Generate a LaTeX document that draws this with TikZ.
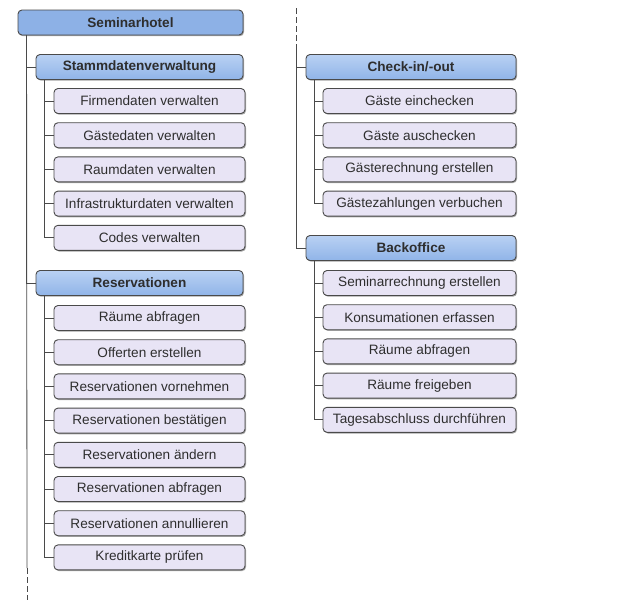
\documentclass[tikz,border=0pt]{standalone}
\usepackage{fontspec}
\setmainfont{Liberation Sans}
\usetikzlibrary{shadows}
\definecolor{rootblue}{HTML}{8DB1E6}
\definecolor{headtop}{HTML}{B9D1F3}
\definecolor{headbot}{HTML}{90B4E8}
\definecolor{leaffill}{HTML}{E8E4F5}
\definecolor{boxline}{HTML}{4A4A4A}
\definecolor{txt}{HTML}{2E2E2E}

\tikzset{
  base/.style={draw=boxline, line width=0.9pt, rounded corners=4pt,
    minimum height=25pt, inner sep=0pt, text=txt,
    drop shadow={shadow xshift=1pt, shadow yshift=-1.2pt, fill=black, opacity=0.35},
    font=\fontsize{13.6}{15}\selectfont},
  rootbox/.style={base, fill=rootblue, minimum width=225pt, font=\fontsize{13.6}{15}\selectfont\bfseries},
  headbox/.style={base, top color=headtop, bottom color=headbot, font=\fontsize{13.6}{15}\selectfont\bfseries},
  leafbox/.style={base, fill=leaffill},
  link/.style={draw=boxline, line width=0.8pt},
  cut/.style={link, dash pattern=on 6pt off 3pt}
}

\begin{document}
\begin{tikzpicture}[x=1pt,y=-1pt]
\useasboundingbox (0,0) rectangle (631,608);

% left column
\node[rootbox] (root) at (130.5,22.5) {Seminarhotel};
\node[headbox, minimum width=207pt] (stamm) at (139.5,67) {Stammdatenverwaltung};
\node[headbox, minimum width=207pt] (reserv) at (139.5,283) {Reservationen};

\foreach \k/\t in {0/Firmendaten verwalten, 1/Gästedaten verwalten, 2/Raumdaten verwalten,
  3/Infrastrukturdaten verwalten, 4/Codes verwalten}
{\node[leafbox, minimum width=191pt] (stamm\k) at (149.5,101+34.2*\k) {\t};
 \draw[link] ([xshift=9pt]stamm.south west) |- (stamm\k.west);}

\foreach \k/\t in {0/Räume abfragen, 1/Offerten erstellen, 2/Reservationen vornehmen,
  3/Reservationen bestätigen, 4/Reservationen ändern, 5/Reservationen abfragen,
  6/Reservationen annullieren, 7/Kreditkarte prüfen}
{\node[leafbox, minimum width=191pt] (reserv\k) at (149.5,318+34.2*\k) {\t};
 \draw[link] ([xshift=9pt]reserv.south west) |- (reserv\k.west);}

\coordinate (lend) at (27,568);
\coordinate (lbot) at (27,600);
\draw[link] ([xshift=9pt]root.south west) -- (lend);
\draw[cut] (lend) -- (lbot);
\draw[link] ([xshift=9pt]root.south west) |- (stamm.west);
\draw[link] ([xshift=9pt]root.south west) |- (reserv.west);

% right column
\node[headbox, minimum width=210pt] (check) at (411,67) {Check-in/-out};
\node[headbox, minimum width=210pt] (back) at (411,248) {Backoffice};

\foreach \k/\t in {0/Gäste einchecken, 1/Gäste auschecken, 2/Gästerechnung erstellen,
  3/Gästezahlungen verbuchen}
{\node[leafbox, minimum width=193pt] (check\k) at (419.5,101+34.2*\k) {\t};
 \draw[link] ([xshift=9pt]check.south west) |- (check\k.west);}

\foreach \k/\t in {0/Seminarrechnung erstellen, 1/Konsumationen erfassen, 2/Räume abfragen,
  3/Räume freigeben, 4/Tagesabschluss durchführen}
{\node[leafbox, minimum width=193pt] (back\k) at (419.5,283+34.2*\k) {\t};
 \draw[link] ([xshift=9pt]back.south west) |- (back\k.west);}

\coordinate (rtop) at (296,8);
\coordinate (rmid) at (296,50);
\draw[cut] (rtop) -- (rmid);
\draw[link] (rmid) |- (check.west);
\draw[link] (rmid) |- (back.west);

\end{tikzpicture}
\end{document}
